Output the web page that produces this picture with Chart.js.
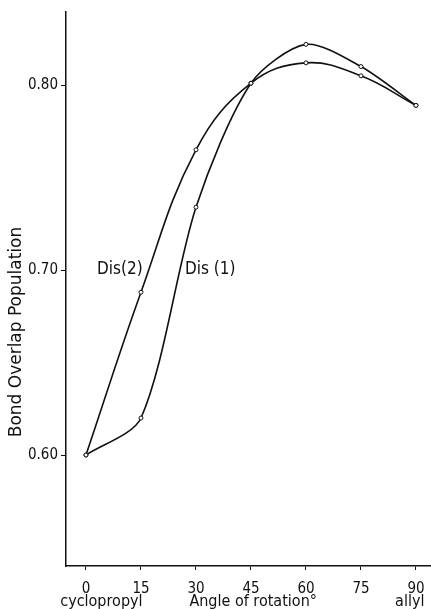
<!DOCTYPE html>
<html>
<head>
<meta charset="utf-8">
<script src="https://cdn.jsdelivr.net/npm/chart.js@4/dist/chart.umd.min.js"></script>
<style>
  html, body { margin: 0; padding: 0; background: #fff; overflow: hidden; }
  #wrap { width: 431px; height: 609px; position: relative; }
  canvas { display: block; }
</style>
</head>
<body>
<div id="wrap"><canvas id="c"></canvas></div>
<script>
// ---- data ----
const angles = [0, 15, 30, 45, 60, 75, 90];
const dis1 = [0.600, 0.620, 0.734, 0.801, 0.822, 0.810, 0.789];
const dis2 = [0.600, 0.688, 0.765, 0.801, 0.812, 0.805, 0.789];
const xTicks = [0, 15, 30, 45, 60, 75, 90];
const yTicks = [0.60, 0.70, 0.80];
const yTickLabels = ['0.60', '0.70', '0.80'];
const seriesNames = ['Dis (1)', 'Dis(2)'];

const FONT = '"DejaVu Sans Condensed", "DejaVu Sans", sans-serif';
const INK = '#111';

function pts(ys) { return angles.map((a, i) => ({ x: a, y: ys[i] })); }

const annot = {
  id: 'annot',
  afterDraw(chart) {
    const ctx = chart.ctx;
    const xs = chart.scales.x, ys = chart.scales.y;
    ctx.save();
    ctx.fillStyle = INK;
    ctx.font = '17px ' + FONT;
    ctx.textBaseline = 'middle';
    ctx.textAlign = 'left';
    ctx.fillText(seriesNames[1], xs.getPixelForValue(3.0), ys.getPixelForValue(0.70));
    ctx.fillText(seriesNames[0], xs.getPixelForValue(27.0), ys.getPixelForValue(0.70));
    // bottom labels
    ctx.font = '16px ' + FONT;
    ctx.textAlign = 'center';
    ctx.fillText('cyclopropyl', xs.getPixelForValue(4.2), 602);
    ctx.fillText('allyl', xs.getPixelForValue(88.3), 602);
    ctx.fillText('Angle of rotation°', xs.getPixelForValue(45.6), 602);
    // y title
    ctx.font = '17px "DejaVu Sans", sans-serif';
    ctx.translate(17, 332);
    ctx.rotate(-Math.PI / 2);
    ctx.fillText('Bond Overlap Population', 0, 0);
    ctx.restore();
  }
};

new Chart(document.getElementById('c'), {
  type: 'line',
  data: {
    datasets: [
      { label: seriesNames[0], data: pts(dis1), tension: 0.28 },
      { label: seriesNames[1], data: pts(dis2), tension: 0.4 }
    ].map(d => Object.assign(d, {
      borderColor: INK, borderWidth: 1.6,
      pointRadius: 2, pointBackgroundColor: '#fff', pointBorderColor: INK, pointBorderWidth: 1,
      fill: false
    }))
  },
  options: {
    responsive: true, maintainAspectRatio: false, animation: false,
    layout: { autoPadding: false, padding: { top: 12, right: 0, left: 0, bottom: 0 } },
    plugins: { legend: { display: false }, tooltip: { enabled: false } },
    scales: {
      x: {
        type: 'linear', min: -5.45, max: 94.1,
        afterBuildTicks: s => { s.ticks = xTicks.map(v => ({ value: v })); },
        afterFit: s => { s.height = 43; s.paddingLeft = 0; s.paddingRight = 0; },
        grid: { display: true, drawOnChartArea: false, drawTicks: true, tickLength: 4, color: INK, lineWidth: 1 },
        border: { display: true, color: INK, width: 1.5 },
        ticks: { color: INK, font: { family: FONT, size: 15 }, padding: 10, maxRotation: 0,
                 callback: v => String(v) }
      },
      y: {
        type: 'linear', min: 0.54, max: 0.8395,
        afterBuildTicks: s => { s.ticks = yTicks.map(v => ({ value: v })); },
        afterFit: s => { s.width = 66; s.paddingTop = 0; s.paddingBottom = 0; },
        grid: { display: true, drawOnChartArea: false, drawTicks: true, tickLength: 5, color: INK, lineWidth: 1 },
        border: { display: true, color: INK, width: 1.5 },
        ticks: { color: INK, font: { family: FONT, size: 15 }, padding: 3,
                 callback: (v) => { const i = yTicks.indexOf(v); return i >= 0 ? yTickLabels[i] : ''; } }
      }
    }
  },
  plugins: [annot]
});
</script>
</body>
</html>
